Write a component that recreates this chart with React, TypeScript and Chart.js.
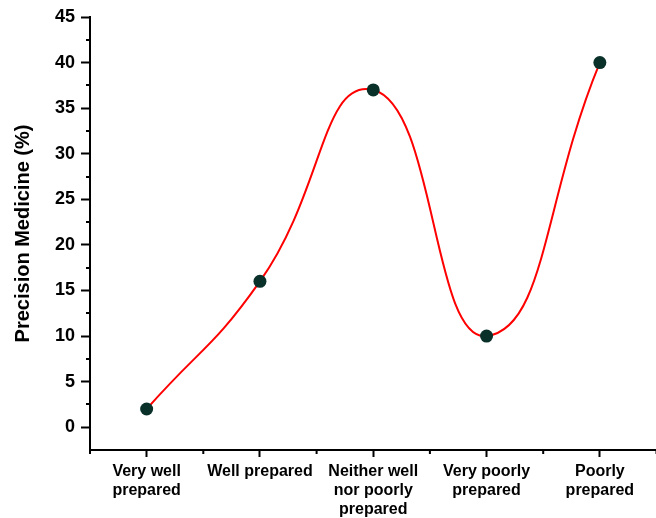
import React, { useEffect, useRef } from "react";
import { Chart, registerables } from "chart.js";

Chart.register(...registerables);

const categories: (string | string[])[] = [
  ["Very well", "prepared"],
  "Well prepared",
  ["Neither well", "nor poorly", "prepared"],
  ["Very poorly", "prepared"],
  ["Poorly", "prepared"],
];
const values = [2, 16, 37, 10, 40];
const yTitle = "Precision Medicine (%)";
const yMin = -2.5;
const yMax = 45;
const yStep = 5;

const FONT = "'Liberation Sans', Arial, sans-serif";

const minorTicks = {
  id: "minorTicks",
  afterDraw(chart: any) {
    const ctx = chart.ctx;
    const y = chart.scales.y;
    const area = chart.chartArea;
    ctx.save();
    ctx.strokeStyle = "#000";
    ctx.lineWidth = 2;
    ctx.beginPath();
    for (let v = yMin + yStep; v < yMax; v += yStep) {
      const py = Math.round(y.getPixelForValue(v));
      ctx.moveTo(area.left - 4, py);
      ctx.lineTo(area.left, py);
    }
    const n = categories.length;
    for (let i = 0; i <= n; i++) {
      const px = area.left + ((area.right - area.left) * i) / n;
      ctx.moveTo(px, area.bottom);
      ctx.lineTo(px, area.bottom + 4);
    }
    ctx.stroke();
    ctx.restore();
  },
};

export default function App() {
  const ref = useRef<HTMLCanvasElement | null>(null);
  useEffect(() => {
    if (!ref.current) return;
    const chart = new Chart(ref.current, {
      type: "line",
      data: {
        labels: categories,
        datasets: [
          {
            data: values,
            borderColor: "#ff0000",
            borderWidth: 2,
            tension: 0.5,
            pointRadius: 6.5,
            pointHoverRadius: 6.5,
            pointBackgroundColor: "#0a302a",
            pointBorderColor: "#0a302a",
            pointBorderWidth: 0,
            fill: false,
            clip: false as any,
          },
        ],
      },
      options: {
        responsive: false,
        animation: false,
        layout: { padding: { top: 17, left: 0, right: 0, bottom: 0 } },
        plugins: { legend: { display: false }, tooltip: { enabled: false } },
        scales: {
          x: {
            type: "category",
            offset: true,
            border: { display: true, color: "#000", width: 2 },
            grid: {
              drawOnChartArea: false,
              drawTicks: true,
              tickLength: 7,
              tickColor: "#000",
              tickWidth: 2,
              offset: false,
            },
            ticks: {
              color: "#000",
              font: { family: FONT, size: 16, weight: "bold", lineHeight: 1.2 },
              padding: 5,
              maxRotation: 0,
              autoSkip: false,
            },
            afterFit(scale: any) {
              scale.height = 68;
            },
          },
          y: {
            min: yMin,
            max: yMax,
            border: { display: true, color: "#000", width: 2 },
            grid: {
              drawOnChartArea: false,
              drawTicks: true,
              tickLength: 9,
              tickColor: "#000",
              tickWidth: 2,
            },
            ticks: {
              stepSize: yStep,
              includeBounds: false,
              color: "#000",
              font: { family: FONT, size: 18, weight: "bold" },
              padding: 6,
            },
            title: {
              display: true,
              text: yTitle,
              color: "#000",
              font: { family: FONT, size: 20, weight: "bold" },
              padding: { top: 11, bottom: 0 },
            },
            afterFit(scale: any) {
              scale.width = 90;
            },
          },
        },
      },
      plugins: [minorTicks],
    });
    return () => chart.destroy();
  }, []);
  return (
    <div
      style={{
        position: "absolute",
        left: 0,
        top: 0,
        width: 656,
        height: 518,
        overflow: "hidden",
        background: "#fff",
      }}
    >
      <canvas ref={ref} width={663} height={518} style={{ width: 663, height: 518, display: "block" }} />
    </div>
  );
}
